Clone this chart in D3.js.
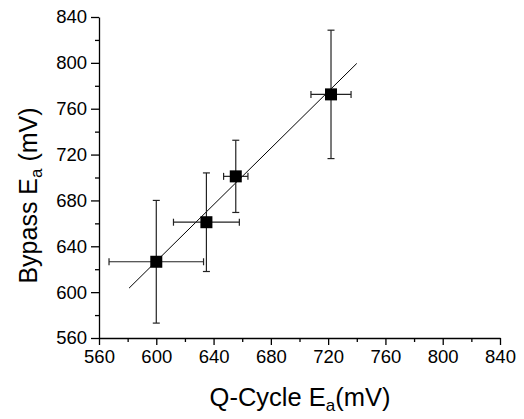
<!DOCTYPE html>
<html><head><meta charset="utf-8">
<script src="https://cdn.jsdelivr.net/npm/d3@7"></script>
<style>body{margin:0;background:#fff}svg{display:block}text{font-family:"Liberation Sans",Arial,sans-serif}</style>
</head><body><svg id="c" width="524" height="419"></svg>
<script>
const qCycle = [600, 635, 655.5, 722];
const bypass = [626.5, 661, 701, 772.5];
const qErr = [33, 23, 8.5, 14];
const bypassErr = [53.5, 43, 31.5, 56];
const fitX = [581, 740];
const fitY = [603.5, 799.5];
const tickValues = [560, 600, 640, 680, 720, 760, 800, 840];
const minorTicks = [580, 620, 660, 700, 740, 780, 820];

const svg = d3.select("#c");
const x = d3.scaleLinear().domain([560, 840]).range([99, 500]);
const y = d3.scaleLinear().domain([560, 840]).range([338, 17]);

svg.append("g").attr("transform","translate(0,338)")
  .call(d3.axisBottom(x).tickValues(minorTicks).tickSize(4).tickFormat(""))
  .call(g=>g.select(".domain").remove());
svg.append("g").attr("transform","translate(99,0)")
  .call(d3.axisLeft(y).tickValues(minorTicks).tickSize(4).tickFormat(""))
  .call(g=>g.select(".domain").remove());

const xa = svg.append("g").attr("transform","translate(0,338)")
  .call(d3.axisBottom(x).tickValues(tickValues).tickSize(7).tickSizeOuter(0).tickPadding(5));
const ya = svg.append("g").attr("transform","translate(99,0)")
  .call(d3.axisLeft(y).tickValues(tickValues).tickSize(8).tickSizeOuter(0).tickPadding(4));
[xa, ya].forEach(a=>{
  a.attr("font-size",18.5).attr("font-family","Liberation Sans, Arial, sans-serif");
  a.selectAll("text").attr("fill","#000");
});
svg.selectAll(".tick line, .domain").attr("stroke","#000").attr("stroke-width",1.3);

svg.append("line")
  .attr("x1", x(fitX[0])).attr("y1", y(fitY[0]))
  .attr("x2", x(fitX[1])).attr("y2", y(fitY[1]))
  .attr("stroke","#000").attr("stroke-width",1);

const data = qCycle.map((v,i)=>({x:v,y:bypass[i],ex:qErr[i],ey:bypassErr[i]}));
const g = svg.append("g").attr("stroke","#222").attr("stroke-width",1.2);
const cap = 3.5;
data.forEach(d=>{
  g.append("line").attr("x1",x(d.x)).attr("x2",x(d.x)).attr("y1",y(d.y-d.ey)).attr("y2",y(d.y+d.ey));
  g.append("line").attr("x1",x(d.x)-cap).attr("x2",x(d.x)+cap).attr("y1",y(d.y-d.ey)).attr("y2",y(d.y-d.ey));
  g.append("line").attr("x1",x(d.x)-cap).attr("x2",x(d.x)+cap).attr("y1",y(d.y+d.ey)).attr("y2",y(d.y+d.ey));
  g.append("line").attr("x1",x(d.x-d.ex)).attr("x2",x(d.x+d.ex)).attr("y1",y(d.y)).attr("y2",y(d.y));
  g.append("line").attr("x1",x(d.x-d.ex)).attr("x2",x(d.x-d.ex)).attr("y1",y(d.y)-cap).attr("y2",y(d.y)+cap);
  g.append("line").attr("x1",x(d.x+d.ex)).attr("x2",x(d.x+d.ex)).attr("y1",y(d.y)-cap).attr("y2",y(d.y)+cap);
});
svg.append("g").selectAll("rect").data(data).join("rect")
  .attr("x",d=>x(d.x)-6).attr("y",d=>y(d.y)-6).attr("width",12).attr("height",12).attr("fill","#000");

const xt = svg.append("text").attr("transform","translate(300,406)").attr("text-anchor","middle").attr("font-size",25.5);
xt.append("tspan").text("Q-Cycle E");
xt.append("tspan").text("a").attr("font-size",17).attr("dy",5);
xt.append("tspan").text("(mV)").attr("dy",-5);

const yt = svg.append("text").attr("transform","translate(37,195.5) rotate(-90)").attr("text-anchor","middle").attr("font-size",25);
yt.append("tspan").text("Bypass E");
yt.append("tspan").text("a").attr("font-size",17).attr("dy",5);
yt.append("tspan").text(" (mV)").attr("dy",-5);
</script></body></html>
